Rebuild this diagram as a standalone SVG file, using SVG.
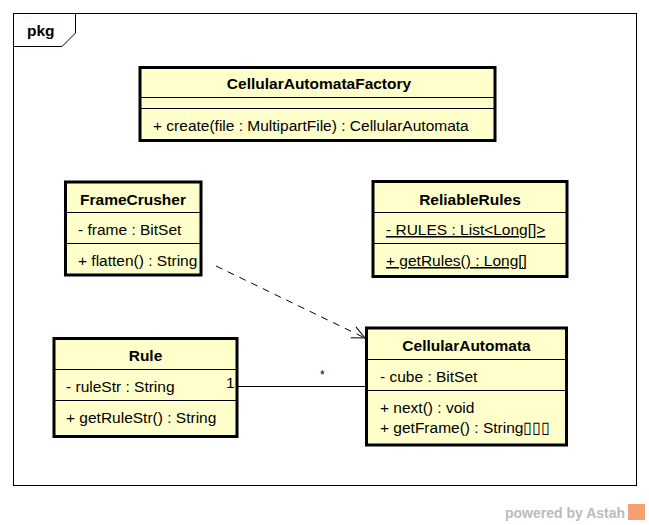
<svg xmlns="http://www.w3.org/2000/svg" width="649" height="525" viewBox="0 0 649 525">
<defs>
<style>
text{font-family:"Liberation Sans",Arial,sans-serif;font-size:15.5px;fill:#000}
.b{font-weight:bold;text-anchor:middle}
.box{fill:#FFFFCC;stroke:#000;stroke-width:3}
.sep{stroke:#000;stroke-width:1}
.u{text-decoration:underline}
</style>
<marker id="open" markerWidth="16" markerHeight="16" refX="14" refY="8" orient="auto" markerUnits="userSpaceOnUse">
<path d="M1,2 L14,8 L1,14" fill="none" stroke="#000" stroke-width="1"/>
</marker>
</defs>
<rect width="649" height="525" fill="#fff"/>
<g id="package">
<rect x="13.5" y="13.5" width="623" height="472" fill="none" stroke="#000" stroke-width="1"/>
<path d="M13.5,46.5 H62 L75.5,33 V13.5" fill="none" stroke="#000" stroke-width="1"/>
<text x="27" y="36" style="font-weight:bold">pkg</text>
</g>
<g id="CellularAutomataFactory">
<rect class="box" x="140" y="67.5" width="355" height="73"/>
<line class="sep" x1="140" y1="97.5" x2="495" y2="97.5"/>
<line class="sep" x1="140" y1="108.5" x2="495" y2="108.5"/>
<text class="b" x="319" y="89">CellularAutomataFactory</text>
<text x="153" y="131">+ create(file : MultipartFile) : CellularAutomata</text>
</g>
<g id="FrameCrusher">
<rect class="box" x="65.5" y="182" width="135.5" height="93"/>
<line class="sep" x1="65.5" y1="212.5" x2="201" y2="212.5"/>
<line class="sep" x1="65.5" y1="243.5" x2="201" y2="243.5"/>
<text class="b" x="133" y="205">FrameCrusher</text>
<text x="78" y="235">- frame : BitSet</text>
<text x="78" y="266">+ flatten() : String</text>
</g>
<g id="ReliableRules">
<rect class="box" x="373" y="181.5" width="194" height="95"/>
<line class="sep" x1="373" y1="212.5" x2="567" y2="212.5"/>
<line class="sep" x1="373" y1="243.5" x2="567" y2="243.5"/>
<text class="b" x="470" y="205">ReliableRules</text>
<text class="u" x="386" y="235">- RULES : List&lt;Long[]&gt;</text>
<text class="u" x="386" y="266">+ getRules() : Long[]</text>
</g>
<g id="Rule">
<rect class="box" x="54" y="338.5" width="183" height="98"/>
<line class="sep" x1="54" y1="369.5" x2="237" y2="369.5"/>
<line class="sep" x1="54" y1="400.5" x2="237" y2="400.5"/>
<text class="b" x="145.5" y="361">Rule</text>
<text x="66" y="392">- ruleStr : String</text>
<text x="66" y="423">+ getRuleStr() : String</text>
</g>
<g id="CellularAutomata">
<rect class="box" x="366.5" y="328" width="200" height="117"/>
<line class="sep" x1="366.5" y1="359.5" x2="566.5" y2="359.5"/>
<line class="sep" x1="366.5" y1="390.5" x2="566.5" y2="390.5"/>
<text class="b" x="466.5" y="351">CellularAutomata</text>
<text x="380" y="382">- cube : BitSet</text>
<text x="380" y="413">+ next() : void</text>
<text x="380" y="433">+ getFrame() : String▯▯▯</text>
</g>
<g id="connectors">
<line x1="216" y1="266" x2="365" y2="338" stroke="#000" stroke-width="1" stroke-dasharray="7,6" marker-end="url(#open)"/>
<line x1="238" y1="386.5" x2="365" y2="386.5" stroke="#000" stroke-width="1"/>
<text x="226" y="388">1</text>
<text x="320" y="379" style="font-size:12px">*</text>
</g>
<g id="watermark">
<text x="505" y="518" style="font-weight:bold;fill:#BBBBBB;font-size:14px">powered by Astah</text>
<rect x="628" y="504" width="17" height="16" fill="#F4A070"/>
</g>
</svg>
